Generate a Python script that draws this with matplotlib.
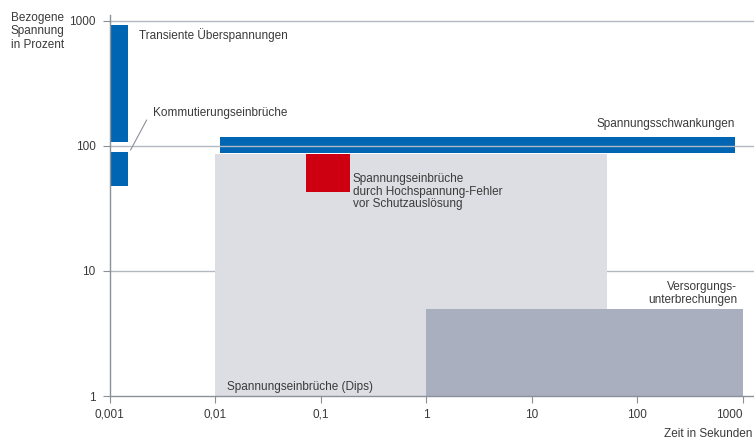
import matplotlib.pyplot as plt

plt.rcParams['font.family'] = ['Liberation Sans', 'DejaVu Sans']

# Phaenomene: Zeitbereich (s) und bezogene Spannung (%)
phaenomene = ['Spannungseinbrüche (Dips)', 'Versorgungsunterbrechungen',
              'Transiente Überspannungen', 'Kommutierungseinbrüche',
              'Spannungsschwankungen', 'Hochspannung-Fehler']
t_von = [0.01, 1, 0.001, 0.001, 0.011, 0.072]
t_bis = [52, 1000, 0.0015, 0.0015, 840, 0.19]
u_von = [1, 1, 108, 48, 88, 43]
u_bis = [87, 5, 930, 90, 118, 87]
farben = ['#dcdee3', '#a9afbe', '#0066b3', '#0066b3', '#0066b3', '#cc0010']

x_ticks = [0.001, 0.01, 0.1, 1, 10, 100, 1000]
x_labels = ['0,001', '0,01', '0,1', '1', '10', '100', '1000']
y_ticks = [1, 10, 100, 1000]
y_labels = ['1', '10', '100', '1000']

TEXT = '#3a3a3a'
GRID = '#b4b8c0'
AXIS = '#8c9099'


def main():
    fig = plt.figure(figsize=(7.54, 4.41), dpi=100)
    ax = fig.add_axes([0.1454, 0.102, 0.8546, 0.864])
    ax.set_xscale('log')
    ax.set_yscale('log')
    ax.set_xlim(0.001, 1270)
    ax.set_ylim(1, 1116)

    for i, name in enumerate(phaenomene):
        ax.fill_between([t_von[i], t_bis[i]], u_von[i], u_bis[i],
                        color=farben[i], lw=0, zorder=2)

    # gitterlinien
    ax.axhline(10, color=GRID, lw=1, zorder=0)
    ax.axhline(1000, color=GRID, lw=1, zorder=0)
    ax.axhline(100, color=GRID, lw=1, zorder=3)

    # beschriftungen
    fs = 8.5
    ax.text(0.0019, 775, 'Transiente Überspannungen', fontsize=fs, color=TEXT,
            ha='left', va='center')
    ax.text(0.00258, 183, 'Kommutierungseinbrüche', fontsize=fs, color=TEXT,
            ha='left', va='center')
    ax.plot([0.00158, 0.00224], [93, 161], color=AXIS, lw=0.8, zorder=3)
    ax.text(830, 150, 'Spannungsschwankungen', fontsize=fs, color=TEXT,
            ha='right', va='center')
    ax.text(0.2, 43, 'Spannungseinbrüche\ndurch Hochspannung-Fehler\nvor Schutzauslösung',
            fontsize=fs, color=TEXT, ha='left', va='center', linespacing=1.05)
    ax.text(880, 6.6, 'Versorgungs-\nunterbrechungen', fontsize=fs, color=TEXT,
            ha='right', va='center', linespacing=1.1)
    ax.text(0.013, 1.18, 'Spannungseinbrüche (Dips)', fontsize=fs, color=TEXT,
            ha='left', va='center')

    ax.set_xticks(x_ticks)
    ax.set_xticklabels(x_labels)
    ax.set_yticks(y_ticks)
    ax.set_yticklabels(y_labels)
    ax.minorticks_off()
    ax.tick_params(axis='both', length=5, width=0.8, color=AXIS,
                   labelsize=fs, labelcolor=TEXT)
    ax.tick_params(axis='x', pad=4)
    ax.tick_params(axis='y', pad=5)
    # letzte beschriftung etwas nach links, damit sie ins bild passt
    ax.get_xticklabels()[-1].set_horizontalalignment('right')
    ax.get_xticklabels()[-1].set_x(1000)

    for s in ['top', 'right']:
        ax.spines[s].set_visible(False)
    for s in ['left', 'bottom']:
        ax.spines[s].set_color(AXIS)
        ax.spines[s].set_linewidth(1)
        ax.spines[s].set_zorder(4)

    fig.text(37.5 / 754, 1 - 12 / 441, 'Bezogene\nSpannung\nin Prozent', fontsize=fs,
             color=TEXT, ha='center', va='top', linespacing=1.15)
    fig.text(752 / 754, 1 - 434 / 441, 'Zeit in Sekunden', fontsize=fs, color=TEXT,
             ha='right', va='center')

    plt.savefig('out.png', dpi=100)
    plt.close()


if __name__ == "__main__":
    main()
